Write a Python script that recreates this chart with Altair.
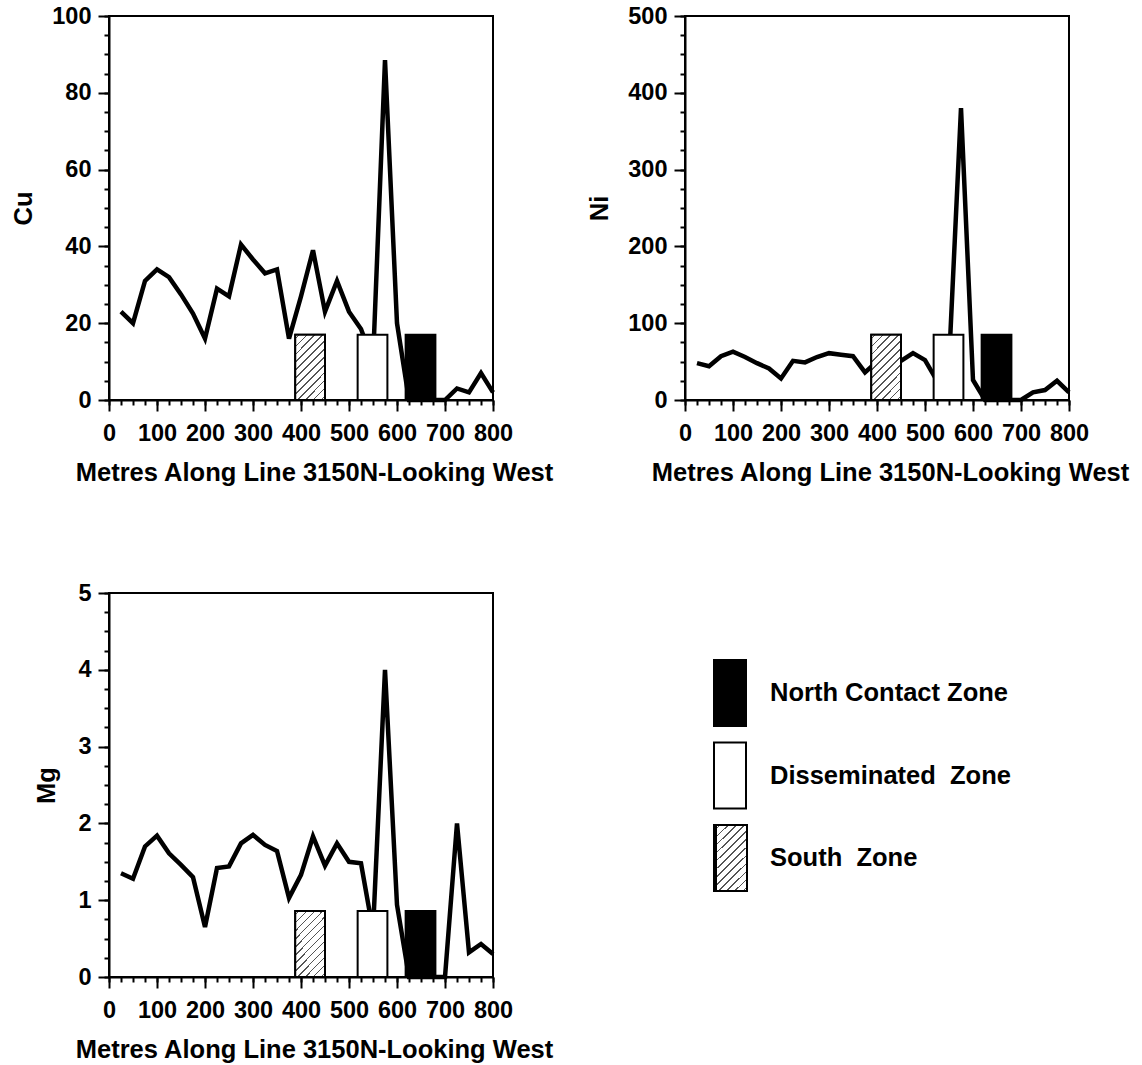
import altair as alt
import pandas as pd

# Sample stations along line 3150N (metres)
distance = [25, 50, 75, 100, 125, 150, 175, 200, 225, 250, 275, 300, 325, 350, 375, 400,
            425, 450, 475, 500, 525, 550, 575, 600, 625, 650, 675, 700, 725, 750, 775, 800]

cu = [23, 20, 31, 34, 32, 27.5, 22.5, 16, 29, 27, 40.5, 36.6, 33, 34, 16, 27,
      39, 23, 31, 23, 18.5, 10, 88.5, 20, 0, 0, 0, 0, 3, 2, 7, 2]
ni = [48, 44, 57, 63, 56, 48, 41, 28, 51, 49, 56, 61, 59, 57, 36, 50,
      48, 51, 61, 52, 25, 48, 380, 26, 0, 0, 0, 0, 10, 13, 25, 10]
mg = [1.35, 1.28, 1.70, 1.84, 1.61, 1.46, 1.30, 0.65, 1.42, 1.44, 1.74, 1.85, 1.72, 1.64, 1.03, 1.33,
      1.83, 1.45, 1.74, 1.50, 1.48, 0.60, 4.00, 0.94, 0, 0, 0, 0, 2.00, 0.32, 0.43, 0.30]

# Mineralised zones along the line
zone_names = ["South Zone", "Disseminated Zone", "North Contact Zone"]
zone_start = [388, 518, 618]
zone_end = [450, 580, 680]
zone_labels = ["South\u00a0 Zone", "Disseminated\u00a0 Zone", "North Contact Zone"]
legend_order = ["North Contact Zone", "Disseminated Zone", "South Zone"]

# Zone marker height in each element's units
box_cu, box_ni, box_mg = 17, 85, 0.86

X_TITLE = "Metres Along Line 3150N-Looking West"
FONT = "Liberation Sans"


# Diagonal hatch drawn as a hard-stop linear gradient
def hatch_fill(n=12, w=0.016, ink="#555555"):
    stops = [{"offset": 0, "color": "white"}]
    for k in range(n):
        c = (k + 0.5) / n
        stops += [{"offset": c - w / 2, "color": "white"},
                  {"offset": c - w / 2, "color": ink},
                  {"offset": c + w / 2, "color": ink},
                  {"offset": c + w / 2, "color": "white"}]
    stops.append({"offset": 1, "color": "white"})
    return {"gradient": "linear", "x1": 0, "y1": 0, "x2": 0.555, "y2": 1.205, "stops": stops}


HATCH = hatch_fill()
zone_fill = alt.Scale(domain=zone_names, range=["white", "white", "black"])


def steps(step, top):
    return [step * i for i in range(int(round(top / step)) + 1)]


def panel(values, ymax, ystep, ymajor, ytitle, box_h, title_x):
    xs = alt.Scale(domain=[0, 800], nice=False, zero=False)
    ys = alt.Scale(domain=[0, ymax], nice=False)

    # labelled major ticks
    x_major = alt.Axis(values=steps(100, 800), format="d", orient="bottom", tickSize=11,
                       labelFlush=False, labelOverlap=False, labelPadding=10,
                       title=X_TITLE, titleX=205, titleY=80, titleBaseline="alphabetic")
    y_major = alt.Axis(values=steps(ymajor, ymax), format="d", orient="left", tickSize=11,
                       labelFlush=False, labelOverlap=False, labelPadding=7,
                       title=ytitle, titleAngle=270, titleX=title_x, titleY=192,
                       titleAlign="center", titleBaseline="middle")
    # short minor ticks
    x_minor = alt.Axis(values=steps(25, 800), orient="bottom", tickSize=5,
                       labels=False, domain=False, title=None)
    y_minor = alt.Axis(values=steps(ystep, ymax), orient="left", tickSize=5,
                       labels=False, domain=False, title=None)

    line_df = pd.DataFrame({"distance": distance, "value": values})
    zone_df = pd.DataFrame({"zone": zone_names, "start": zone_start,
                            "end": zone_end, "top": [box_h] * 3})

    minor = alt.Chart(line_df).mark_line(strokeOpacity=0).encode(
        x=alt.X("distance:Q", scale=xs, axis=x_minor),
        y=alt.Y("value:Q", scale=ys, axis=y_minor),
    )
    line = alt.Chart(line_df).mark_line(color="black", strokeWidth=4.5, strokeJoin="miter").encode(
        x=alt.X("distance:Q", scale=xs, axis=x_major),
        y=alt.Y("value:Q", scale=ys, axis=y_major),
    )
    boxes = alt.Chart(zone_df).mark_rect(stroke="black", strokeWidth=2).encode(
        x=alt.X("start:Q", scale=xs, axis=None),
        x2="end:Q",
        y=alt.Y("top:Q", scale=ys, axis=None),
        y2=alt.datum(0),
        fill=alt.Fill("zone:N", scale=zone_fill, legend=None),
    )
    hatch = alt.Chart(zone_df).transform_filter(
        alt.datum.zone == "South Zone"
    ).mark_rect(stroke="black", strokeWidth=2, fill=HATCH).encode(
        x=alt.X("start:Q", scale=xs, axis=None),
        x2="end:Q",
        y=alt.Y("top:Q", scale=ys, axis=None),
        y2=alt.datum(0),
    )
    return alt.layer(minor, line, boxes, hatch).resolve_axis(
        x="independent", y="independent"
    ).properties(width=384, height=384)


cu_panel = panel(cu, 100, 5, 20, "Cu", box_cu, -86)
ni_panel = panel(ni, 500, 25, 100, "Ni", box_ni, -86)
mg_panel = panel(mg, 5, 0.25, 1, "Mg", box_mg, -63)

# Zone key
leg_df = pd.DataFrame({"zone": zone_names, "label": zone_labels})
leg_y = alt.Y("zone:N", sort=legend_order, axis=None,
              scale=alt.Scale(range=[67, 298], paddingInner=0.2, paddingOuter=0))
leg_boxes = alt.Chart(leg_df).mark_rect(stroke="black", strokeWidth=2).encode(
    y=leg_y, x=alt.value(29), x2=alt.value(61),
    fill=alt.Fill("zone:N", scale=zone_fill, legend=None),
)
leg_hatch = alt.Chart(leg_df).transform_filter(
    alt.datum.zone == "South Zone"
).mark_rect(stroke="black", strokeWidth=2, fill=HATCH).encode(
    y=leg_y, x=alt.value(31), x2=alt.value(62),
)
leg_text = alt.Chart(leg_df).mark_text(
    align="left", baseline="middle", font=FONT, fontSize=25.5, fontWeight="bold", color="black"
).encode(y=leg_y, x=alt.value(85), text="label:N")
key = alt.layer(leg_boxes, leg_hatch, leg_text).properties(
    width=384, height=384, view=alt.ViewBackground(stroke="transparent")
)

chart = alt.concat(
    cu_panel, ni_panel, mg_panel, key,
    columns=2, spacing=alt.RowColnumber(row=193, column=192), bounds="flush",
).resolve_scale(
    x="independent", y="independent", fill="independent"
).properties(
    padding={"left": 10, "top": 3, "right": 5, "bottom": 5},
    background="white",
).configure_axis(
    labelFont=FONT, labelFontSize=23.5, labelFontWeight="bold", labelColor="black",
    titleFont=FONT, titleFontSize=25.5, titleFontWeight="bold", titleColor="black",
    domainColor="black", domainWidth=2, tickColor="black", tickWidth=2, grid=False,
).configure_view(
    stroke="black", strokeWidth=2
)

chart.save("out.html", embed_options={"renderer": "svg", "actions": False})
